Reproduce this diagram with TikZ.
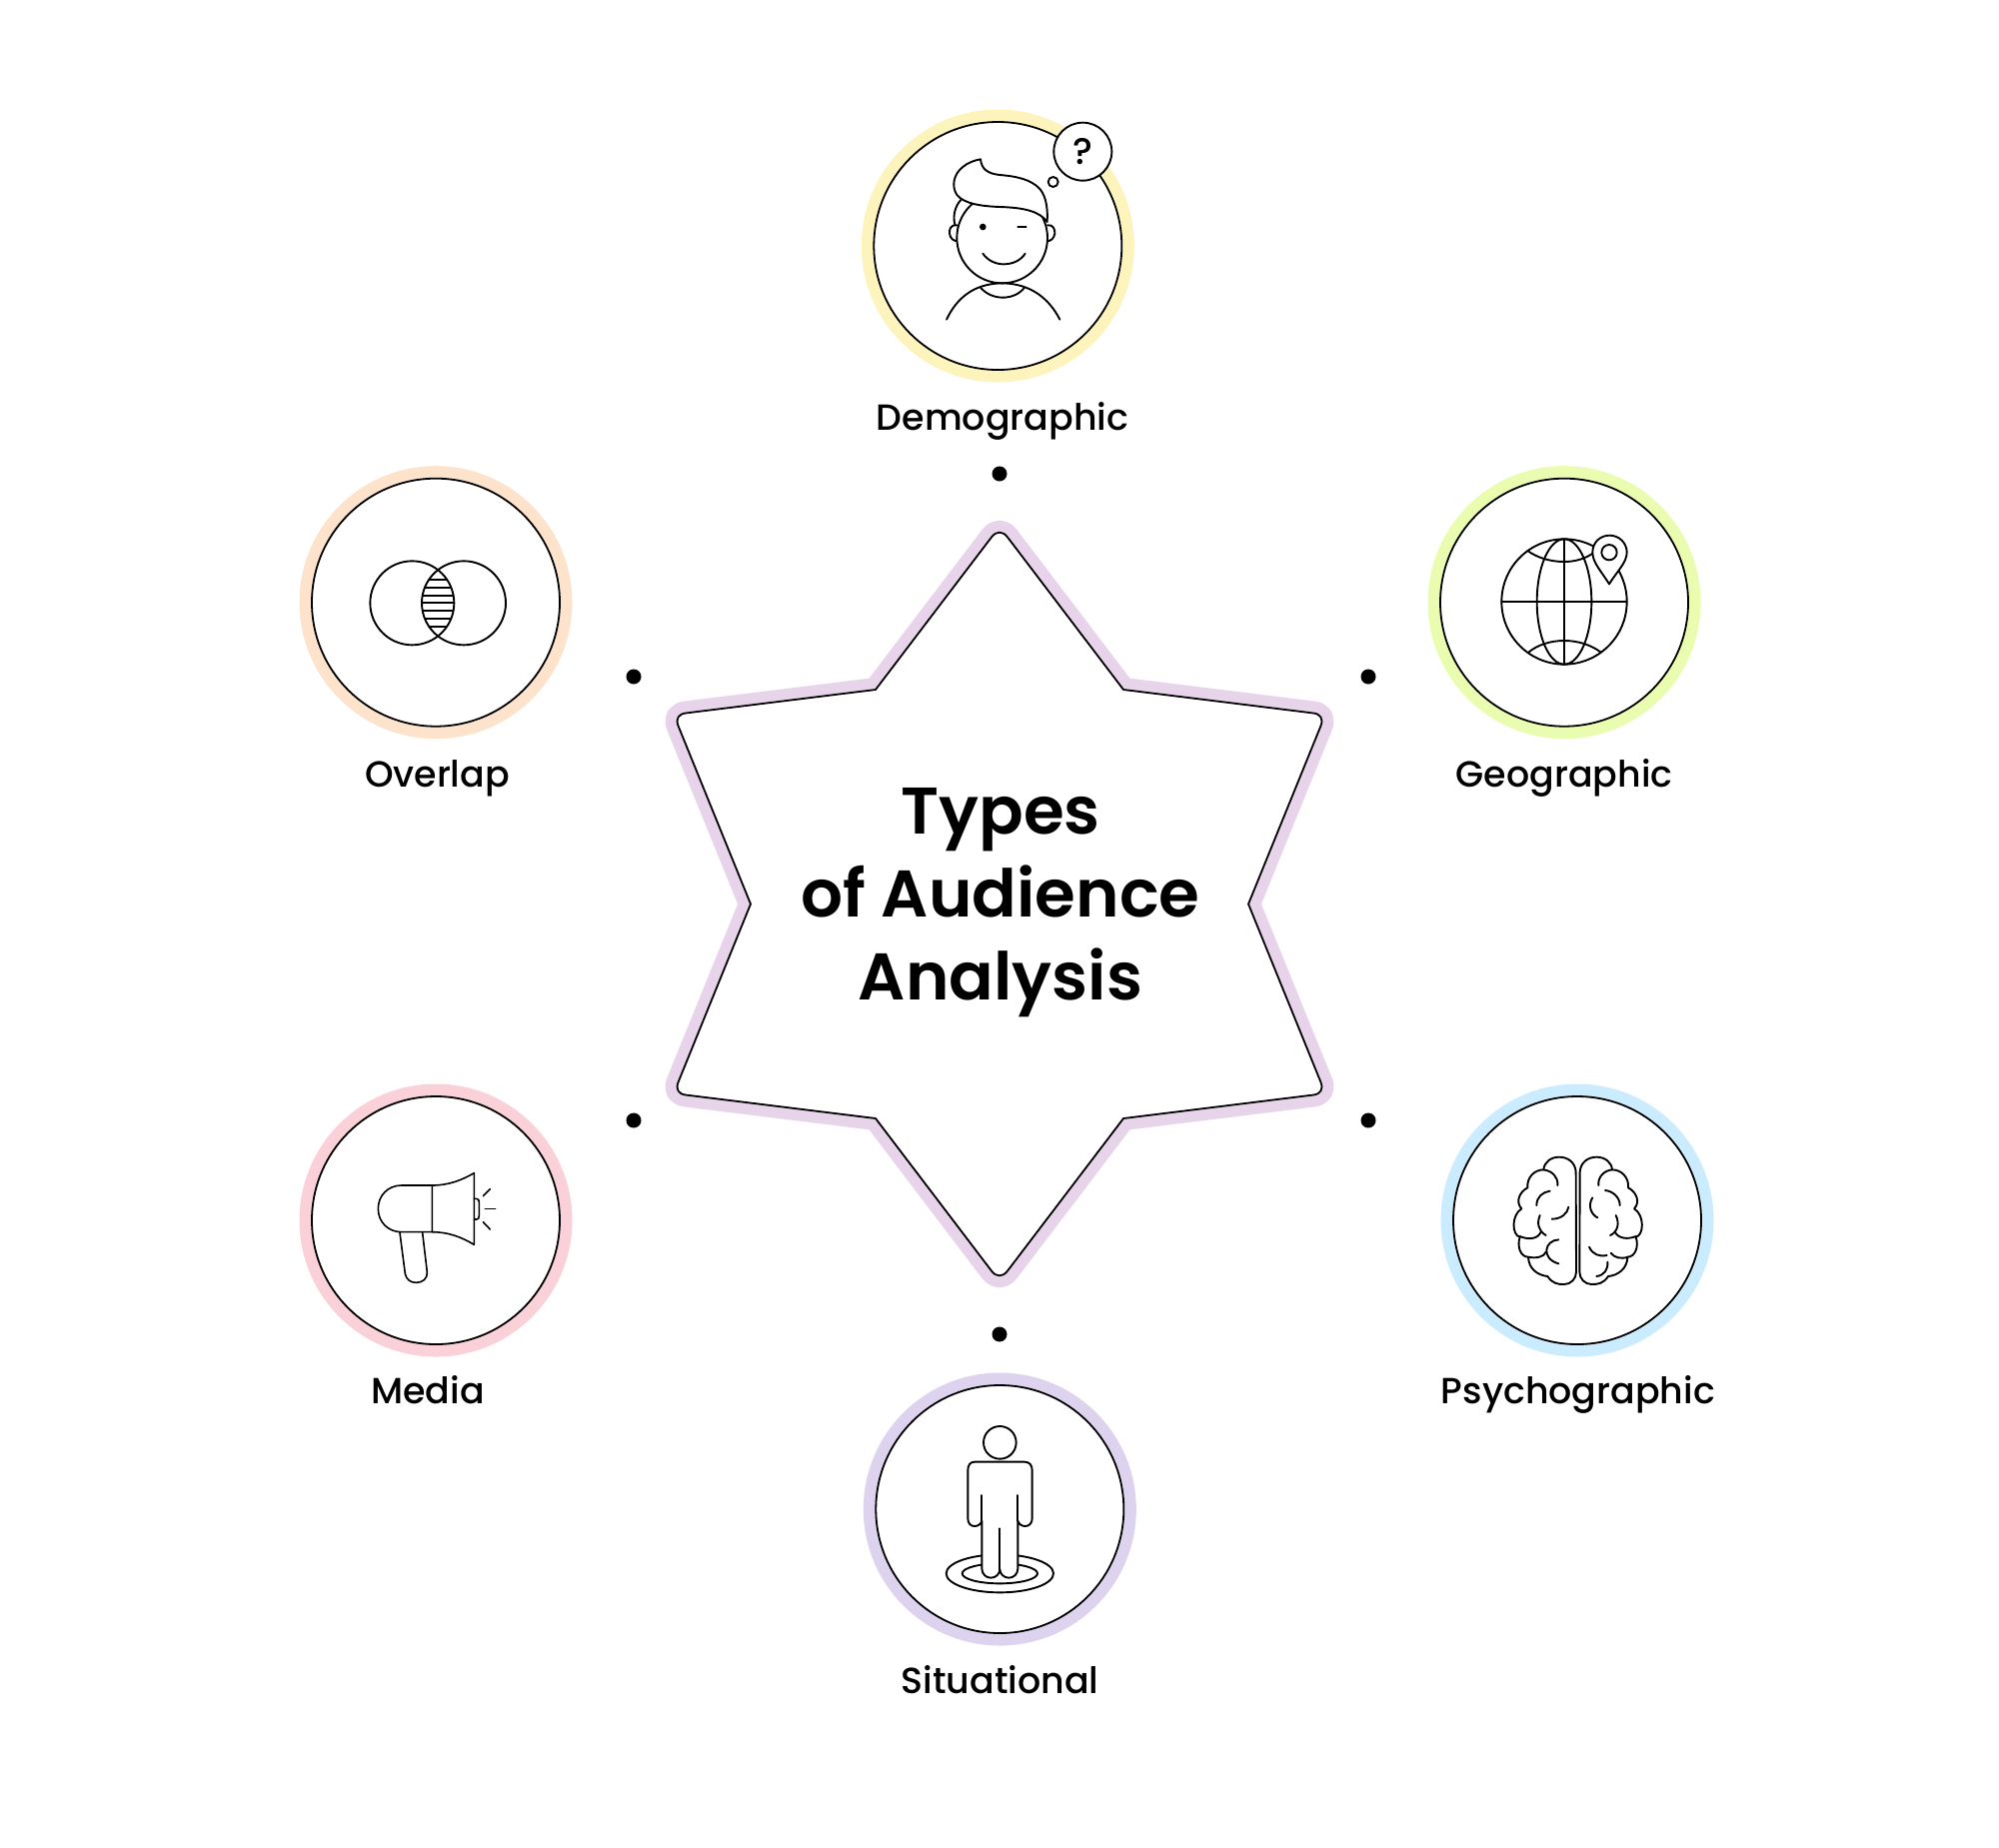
\documentclass[tikz,border=0pt]{standalone}
\usepackage{fontspec}
\setmainfont{Poppins}
\newfontfamily\medf{Poppins Medium}
\newfontfamily\semif{Poppins SemiBold}
\definecolor{ryellow}{HTML}{FDF3BD}
\definecolor{rgreen}{HTML}{EAFCAF}
\definecolor{rblue}{HTML}{CBECFE}
\definecolor{rpurple}{HTML}{DED3EE}
\definecolor{rpink}{HTML}{FAD1D9}
\definecolor{rpeach}{HTML}{FEE3CC}
\definecolor{rstar}{HTML}{E7D3EA}
\tikzset{
  ringout/.style={circle,inner sep=0pt,minimum size=136.5pt,fill=#1},
  ringin/.style={circle,inner sep=0pt,minimum size=124pt,fill=white,draw=black,line width=0.9pt},
  lbl/.style={inner sep=0pt,anchor=base,font=\fontsize{18.2pt}{22pt}\medf,text=black},
  ttl/.style={inner sep=0pt,anchor=base,font=\fontsize{33pt}{38pt}\semif,text=black},
  dotn/.style={circle,inner sep=0pt,minimum size=7.5pt,fill=black},
  ico/.style={line width=0.95pt,line cap=round,line join=round,draw=black},
  icof/.style={ico,fill=white},
  thin ico/.style={line width=0.8pt,line cap=round,line join=round,draw=black}
}
\newcommand{\starpath}{(1007.9,536.3) -- (1124,689) -- (1314.1,712.5) .. controls (1321.2,713.4) and (1324.2,718.4) .. (1321.5,725.1) -- (1249,903.5) -- (1321.5,1081.9) .. controls (1324.2,1088.6) and (1321.2,1093.6) .. (1314.1,1094.5) -- (1124,1118) -- (1007.9,1270.7) .. controls (1003.16,1276.9) and (996.84,1276.9) .. (992.1,1270.7) -- (876,1118) -- (685.9,1094.5) .. controls (678.8,1093.6) and (675.8,1088.6) .. (678.5,1081.9) -- (751,903.5) -- (678.5,725.1) .. controls (675.8,718.4) and (678.8,713.4) .. (685.9,712.5) -- (876,689) -- (992.1,536.3) .. controls (996.84,530.1) and (1003.16,530.1) .. (1007.9,536.3) -- cycle}
\newcommand{\brainoutline}{(440,275) .. controls (438,245) and (415,230) .. (390,230) .. controls (365,230) and (345,245) .. (343,268)
  .. controls (315,268) and (292,292) .. (295,322) .. controls (270,335) and (258,365) .. (277,385)
  .. controls (245,405) and (248,465) .. (272,470) .. controls (262,500) and (275,530) .. (297,530)
  .. controls (298,565) and (325,585) .. (355,588) .. controls (370,610) and (385,612) .. (405,612)
  .. controls (425,612) and (441,595) .. (441,575) -- cycle}
\begin{document}
\begin{tikzpicture}[x=0.5pt,y=-0.5pt]
\useasboundingbox (0,0) rectangle (2000,1848);
\begin{scope}[yshift=-0.5pt]
% star
\draw[rstar,line width=12pt,line join=round] \starpath;
\draw[black,fill=white,line width=0.9pt,line join=round] \starpath;
\node[ttl] (t1) at (1001,833) {Types};
\node[ttl] (t2) at (1001,916) {of Audience};
\node[ttl] (t3) at (1001,999) {Analysis};
% rings
\node[ringout=ryellow] (demoR) at (998.3,245) {};
\node[ringin] (demoC) at (998.3,245) {};
\node[ringout=rgreen] (geoR) at (1565,601.7) {};
\node[ringin] (geoC) at (1565,601.7) {};
\node[ringout=rblue] (psyR) at (1578,1220) {};
\node[ringin] (psyC) at (1578,1220) {};
\node[ringout=rpurple] (sitR) at (1000.3,1509) {};
\node[ringin] (sitC) at (1000.3,1509) {};
\node[ringout=rpink] (medR) at (436,1220) {};
\node[ringin] (medC) at (436,1220) {};
\node[ringout=rpeach] (ovR) at (436,601.7) {};
\node[ringin] (ovC) at (436,601.7) {};
% dots
\node[dotn] (d1) at (1000,473) {};
\node[dotn] (d2) at (1369,676) {};
\node[dotn] (d3) at (1369,1120) {};
\node[dotn] (d4) at (1000,1334) {};
\node[dotn] (d5) at (634,1120) {};
\node[dotn] (d6) at (634,676) {};
% labels
\node[lbl] (l1) at (1003,429) {Demographic};
\node[lbl] (l2) at (1565,786) {Geographic};
\node[lbl] (l3) at (1579,1403) {Psychographic};
\node[lbl] (l4) at (1000.5,1693) {Situational};
\node[lbl] (l5) at (428,1403) {Media};
\node[lbl] (l6) at (437.5,786) {Overlap};
% Demographic icon
\begin{scope}[shift={(850,90)},scale=1/3]
\draw[ico] (336,325) .. controls (315,345) and (305,385) .. (322,415);
\draw[icof] (322,403) .. controls (305,400) and (298,415) .. (300,428) .. controls (302,442) and (312,452) .. (325,450);
\draw[icof] (594,403) .. controls (610,400) and (617,415) .. (616,428) .. controls (614,442) and (604,452) .. (592,450);
\draw[icof] (458,441) circle (136);
\draw[icof] (393,205) .. controls (396,235) and (415,248) .. (450,252) .. controls (500,256) and (545,265) .. (572,295) .. controls (592,320) and (595,360) .. (593,393)
  .. controls (570,360) and (520,350) .. (450,348) .. controls (400,346) and (345,340) .. (322,312) .. controls (305,285) and (312,250) .. (340,228) .. controls (355,215) and (375,208) .. (393,205) -- cycle;
\fill (400,408) circle (10);
\draw[ico] (505,408) -- (530,408);
\draw[ico] (400,488) .. controls (415,510) and (440,520) .. (462,520) .. controls (490,520) and (515,508) .. (527,488);
\draw[ico] (291,686) .. controls (320,625) and (370,578) .. (458,577) .. controls (545,578) and (600,625) .. (631,686);
\draw[ico] (393,590) .. controls (410,610) and (435,620) .. (460,620) .. controls (485,620) and (510,610) .. (525,590);
\draw[icof] (611,273) circle (15);
\draw[icof] (700,182) circle (87);
\node[inner sep=0pt,font=\fontsize{18.5pt}{20pt}\medf] (q) at (700,183) {?};
\end{scope}
% Geographic icon
\begin{scope}[shift={(1420,460)},scale=1/3]
\draw[ico] (435,423) circle (188);
\draw[ico] (435,423) ellipse (82 and 188);
\draw[ico] (435,235) -- (435,611);
\draw[ico] (247,423) -- (623,423);
\draw[ico] (325,270) .. controls (355,292) and (395,303) .. (435,303) .. controls (470,303) and (500,293) .. (525,275);
\draw[ico] (328,575) .. controls (355,552) and (395,540) .. (435,540) .. controls (475,540) and (515,552) .. (545,575);
\draw[icof] (570,370) .. controls (545,330) and (520,305) .. (520,275) .. controls (520,245) and (543,224) .. (571,224) .. controls (600,224) and (623,247) .. (623,275) .. controls (623,305) and (595,330) .. (570,370) -- cycle;
\draw[ico] (570,275) circle (23);
\end{scope}
% Psychographic icon
\begin{scope}[shift={(1430,1080)},scale=1/3]
\draw[ico] \brainoutline;
\begin{scope}[shift={(892,0)},xscale=-1]
\draw[ico] \brainoutline;
\end{scope}
\draw[ico] (343,268) .. controls (370,272) and (387,290) .. (385,315);
\draw[ico] (362,332) .. controls (340,335) and (322,350) .. (322,375);
\draw[ico] (418,380) .. controls (415,400) and (395,416) .. (368,416);
\draw[ico] (332,405) .. controls (322,430) and (328,452) .. (350,465);
\draw[ico] (272,468) .. controls (295,478) and (325,478) .. (335,455);
\draw[ico] (388,478) .. controls (345,480) and (335,535) .. (388,550);
\draw[ico] (297,530) .. controls (320,535) and (345,530) .. (350,515);
\draw[ico] (508,315) .. controls (505,290) and (525,270) .. (549,268);
\draw[ico] (528,330) .. controls (550,332) and (572,350) .. (572,375);
\draw[ico] (490,352) .. controls (475,375) and (485,402) .. (505,412);
\draw[ico] (560,405) .. controls (572,430) and (565,455) .. (543,465);
\draw[ico] (620,468) .. controls (595,478) and (568,475) .. (557,455);
\draw[ico] (480,500) .. controls (490,522) and (510,530) .. (533,525);
\draw[ico] (545,518) .. controls (555,532) and (575,537) .. (597,530);
\draw[ico] (535,545) .. controls (537,568) and (525,585) .. (502,588);
\end{scope}
% Situational icon
\begin{scope}[shift={(860,1370)},scale=1/3]
\draw[ico] (421,610) ellipse (161 and 57);
\draw[ico] (421,610) ellipse (113 and 30);
\draw[icof] (345,275) -- (495,275) .. controls (510,275) and (518,285) .. (518,300) -- (518,445) .. controls (518,460) and (508,468) .. (497,468) .. controls (487,468) and (478,462) .. (475,452)
  -- (475,595) .. controls (475,612) and (462,623) .. (448,623) .. controls (434,623) and (421,612) .. (421,597) .. controls (421,612) and (408,623) .. (394,623) .. controls (380,623) and (367,612) .. (367,595)
  -- (367,452) .. controls (364,462) and (355,468) .. (345,468) .. controls (334,468) and (325,460) .. (325,445) -- (325,300) .. controls (325,285) and (332,275) .. (345,275) -- cycle;
\draw[ico] (367,375) -- (367,452);
\draw[ico] (475,375) -- (475,452);
\draw[ico] (421,475) -- (421,597);
\draw[ico] (421,217) circle (49);
\end{scope}
% Media icon
\begin{scope}[shift={(300,1080)},scale=1/3]
\draw[thin ico] (397,315) -- (305,315) .. controls (265,315) and (235,345) .. (235,385) .. controls (235,425) and (265,455) .. (305,455) -- (397,455) -- cycle;
\draw[thin ico] (397,315) .. controls (445,315) and (485,300) .. (523,278) -- (523,493) .. controls (485,470) and (445,455) .. (397,455);
\draw[thin ico] (523,355) -- (530,355) .. controls (536,355) and (538,360) .. (538,366) -- (538,406) .. controls (538,413) and (536,417) .. (530,417) -- (523,417);
\draw[thin ico] (300,457) -- (316,580) .. controls (319,597) and (332,607) .. (349,607) .. controls (368,607) and (384,595) .. (382,575) -- (368,457);
\draw[thin ico] (550,347) -- (571,326);
\draw[thin ico] (556,385) -- (587,385);
\draw[thin ico] (550,425) -- (571,447);
\end{scope}
% Overlap icon
\begin{scope}[shift={(300,460)},scale=1/3]
\draw[ico] (337,427) circle (126);
\draw[ico] (492,427) circle (126);
\begin{scope}
\clip (337,427) circle (126);
\clip (492,427) circle (126);
\foreach \yy in {358,381,404,427,450,473,497}
  \draw[ico] (340,\yy) -- (490,\yy);
\end{scope}
\end{scope}
\end{scope}
\end{tikzpicture}
\end{document}
